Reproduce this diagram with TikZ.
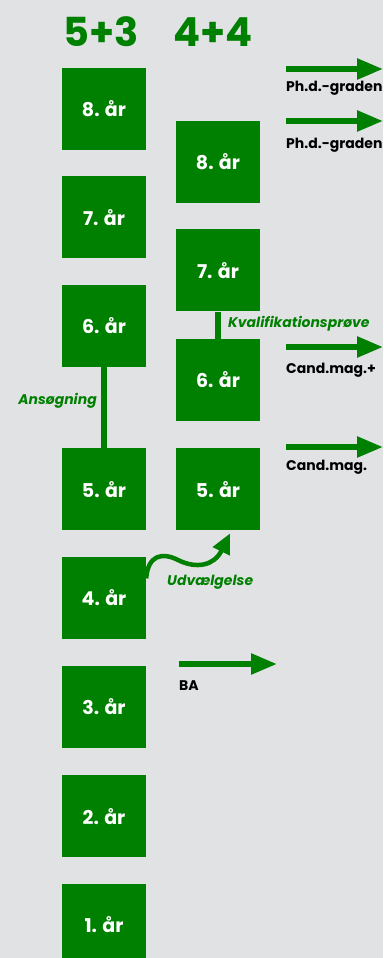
\documentclass[tikz,border=0pt]{standalone}
\usepackage{fontspec}
\setmainfont{Poppins}
\usetikzlibrary{arrows.meta, positioning}
\definecolor{dkgreen}{RGB}{0,128,0}
\definecolor{bggrey}{RGB}{225,226,228}

\tikzset{
  year/.style={fill=dkgreen, minimum width=84pt, minimum height=82pt,
    inner sep=0pt, text=white, font=\bfseries\fontsize{19}{19}\selectfont},
  head/.style={text=dkgreen, font=\bfseries\fontsize{40}{40}\selectfont},
  degree/.style={anchor=west, inner sep=0pt, font=\bfseries\fontsize{14}{14}\selectfont},
  step label/.style={text=dkgreen, inner sep=0pt, font=\bfseries\itshape\fontsize{14}{14}\selectfont},
  outarrow/.style={draw=dkgreen, line width=5.5pt, -{Triangle[length=26pt,width=20pt]}},
  link/.style={draw=dkgreen, line width=5.5pt}
}

\begin{document}
\begin{tikzpicture}[x=1pt, y=-1pt]
    \fill[bggrey] (0,0) rectangle (383,958);
    \useasboundingbox (0,0) rectangle (383,958);

    % Headings
    \node[head] (H53) at (101,32) {5+3};
    \node[head] (H44) at (213,32) {4+4};

    % Nodes, 5+3
    \node[year] (L8) at (104,109) {8. år};
    \node[year, below=26pt of L8] (L7) {7. år};
    \node[year, below=26pt of L7] (L6) {6. år};
    \node[year, below=81pt of L6] (L5) {5. år};
    \node[year, below=26pt of L5] (L4) {4. år};
    \node[year, below=27pt of L4] (L3) {3. år};
    \node[year, below=27pt of L3] (L2) {2. år};
    \node[year, below=26pt of L2] (L1) {1. år};

    % Nodes, 4+4
    \node[year] (R8) at (218,162) {8. år};
    \node[year, below=26pt of R8] (R7) {7. år};
    \node[year, below=27pt of R7] (R6) {6. år};
    \node[year, below=27pt of R6] (R5) {5. år};

    % Links
    \draw[link] (L6) -- (L5);
    \node[step label, anchor=east] (ans) at (97,401) {Ansøgning};
    \draw[link] (R7) -- (R6);
    \node[step label, anchor=west] (kval) at (228,324) {Kvalifikationsprøve};

    \draw[draw=dkgreen, line width=4.5pt, -{Triangle[length=20pt,width=18pt]}]
        ([yshift=-22pt]L4.north east) .. controls (148,555) and (162,552) .. (178,560)
        .. controls (196,569) and (214,566) .. ([xshift=12pt,yshift=-3pt]R5.south);
    \node[step label, anchor=west] (udv) at (167,582) {Udvælgelse};

    % Arrows
    \coordinate (phd1) at (286,69);
    \coordinate (phd1e) at (383,69);
    \draw[outarrow] (phd1) -- (phd1e);
    \node[degree] (phd1l) at (286,88) {Ph.d.-graden};

    \coordinate (phd2) at (286,121);
    \coordinate (phd2e) at (383,121);
    \draw[outarrow] (phd2) -- (phd2e);
    \node[degree] (phd2l) at (286,145) {Ph.d.-graden};

    \coordinate (cmp) at (286,347);
    \coordinate (cmpe) at (383,347);
    \draw[outarrow] (cmp) -- (cmpe);
    \node[degree] (cmpl) at (286,370) {Cand.mag.+};

    \coordinate (cm) at (286,447);
    \coordinate (cme) at (383,447);
    \draw[outarrow] (cm) -- (cme);
    \node[degree] (cml) at (286,467) {Cand.mag.};

    \coordinate (ba) at (179,664);
    \coordinate (bae) at (277,664);
    \draw[outarrow] (ba) -- (bae);
    \node[degree] (bal) at (179,686) {BA};
\end{tikzpicture}
\end{document}
